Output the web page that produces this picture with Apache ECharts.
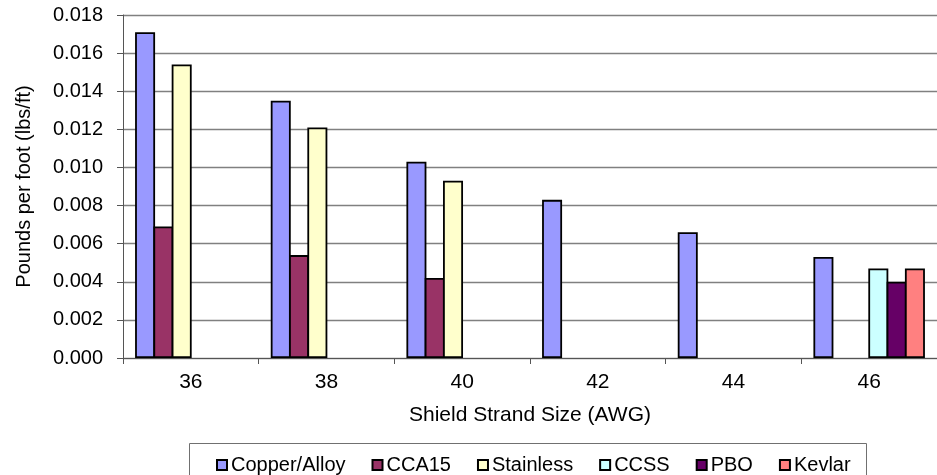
<!DOCTYPE html>
<html>
<head>
<meta charset="utf-8">
<title>Shield strand weight by AWG</title>
<script src="https://cdn.jsdelivr.net/npm/echarts@6/dist/echarts.min.js"></script>
<style>
  html, body { margin: 0; padding: 0; background: #fff; }
  #chart { width: 937px; height: 475px; }
</style>
</head>
<body>
<div id="chart"></div>
<script>
// Shield strand sizes (AWG)
const categories = ['36', '38', '40', '42', '44', '46'];

// Weight in pounds per foot for each shield material
const copperAlloy = [0.0171, 0.0135, 0.0103, 0.0083, 0.0066, 0.0053];
const cca15       = [0.0069, 0.0054, 0.0042, null, null, null];
const stainless   = [0.0154, 0.0121, 0.0093, null, null, null];
const ccss        = [null, null, null, null, null, 0.0047];
const pbo         = [null, null, null, null, null, 0.0040];
const kevlar      = [null, null, null, null, null, 0.0047];

const seriesNames  = ['Copper/Alloy', 'CCA15', 'Stainless', 'CCSS', 'PBO', 'Kevlar'];
const seriesData   = [copperAlloy, cca15, stainless, ccss, pbo, kevlar];
const seriesColors = ['#9999FF', '#993366', '#FFFFCC', '#CCFFFF', '#660066', '#FF8080'];

const FONT = "'Liberation Sans', Arial, sans-serif";

const chart = echarts.init(document.getElementById('chart'), null, { renderer: 'canvas' });

chart.setOption({
  animation: false,
  backgroundColor: '#ffffff',
  textStyle: { fontFamily: FONT, color: '#000' },
  grid: { left: 123, top: 15, bottom: 117, right: -10, containLabel: false },
  legend: {
    left: 211,
    top: 450,
    itemWidth: 10,
    itemHeight: 10,
    itemGap: 26,
    icon: 'rect',
    textStyle: { fontFamily: FONT, fontSize: 20, color: '#000', padding: [0, 0, 0, -1] },
    data: seriesNames
  },
  graphic: [{
    type: 'rect',
    shape: { x: 189.5, y: 443.5, width: 677, height: 40 },
    style: { fill: 'none', stroke: '#707070', lineWidth: 1 },
    silent: true,
    z: -1
  }],
  xAxis: {
    type: 'category',
    data: categories,
    name: 'Shield Strand Size (AWG)',
    nameLocation: 'middle',
    nameGap: 47,
    nameTextStyle: { fontFamily: FONT, fontSize: 21, color: '#000' },
    axisLine: { lineStyle: { color: '#555', width: 1 } },
    axisTick: { show: true, alignWithLabel: false, length: 6, lineStyle: { color: '#555' } },
    axisLabel: { fontFamily: FONT, fontSize: 21, color: '#000', margin: 14 }
  },
  yAxis: {
    type: 'value',
    min: 0,
    max: 0.018,
    interval: 0.002,
    name: 'Pounds per foot (lbs/ft)',
    nameLocation: 'middle',
    nameGap: 89,
    nameTextStyle: { fontFamily: FONT, fontSize: 20, color: '#000' },
    axisLine: { show: true, lineStyle: { color: '#555', width: 1 } },
    axisTick: { show: true, length: 6, lineStyle: { color: '#555' } },
    axisLabel: {
      fontFamily: FONT, fontSize: 20, color: '#000', margin: 20,
      formatter: v => v.toFixed(3)
    },
    splitLine: { show: true, lineStyle: { color: '#808080', width: 1.4 } }
  },
  // Bars share their outlines: each bar is a little wider than its slot
  // and neighbours overlap by one border width.
  series: seriesNames.map((name, i) => ({
    name: name,
    type: 'bar',
    data: seriesData[i],
    barWidth: 20,
    barGap: '-8.5%',
    itemStyle: { color: seriesColors[i], borderColor: '#000', borderWidth: 1.8 }
  }))
});
</script>
</body>
</html>
